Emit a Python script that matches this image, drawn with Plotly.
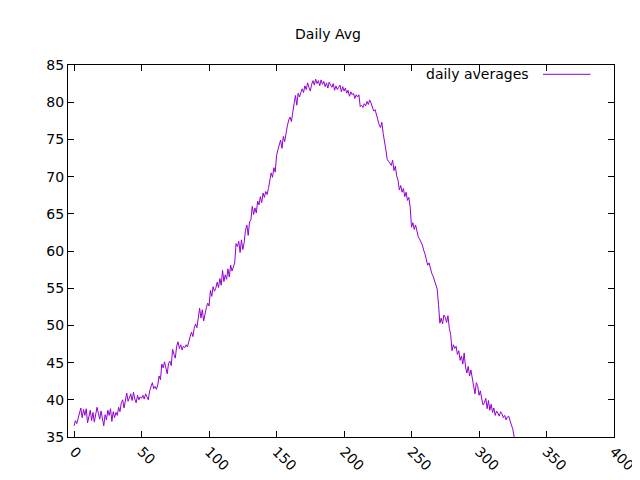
import plotly.graph_objects as go

avg = [
36.5,37.2,36.8,37.5,38.1,38.9,37.6,38.7,37.9,38.8,    # 0
36.9,37.8,38.6,37.2,38.3,37.0,38.1,39.0,38.2,37.4,    # 10
38.5,37.7,36.5,38.0,37.3,38.6,37.9,38.8,37.1,38.4,    # 20
37.6,38.3,37.9,39.0,38.4,39.6,40.0,38.9,39.8,40.9,    # 30
39.8,40.3,40.8,39.9,41.0,40.1,39.6,40.6,40.0,40.4,    # 40
40.2,41.9,42.3,41.5,41.8,41.4,42.0,43.2,42.7,44.8,    # 50
44.3,45.1,44.0,43.5,44.9,45.2,46.8,46.1,45.6,47.2,    # 60
48.3,46.9,47.4,46.7,47.2,47.0,48.0,48.5,49.1,48.5,    # 70
50.2,49.7,50.8,52.3,51.0,52.1,50.6,53.0,52.4,54.7,    # 80
53.9,55.2,54.6,55.8,56.3,55.1,57.4,55.9,56.8,56.2,    # 90
57.6,56.5,58.1,57.3,61.0,60.6,61.3,59.8,61.5,60.2,    # 100
62.8,63.5,62.1,64.2,66.0,64.9,65.8,65.1,66.7,67.3,    # 110
66.5,67.8,67.2,68.0,67.6,69.6,70.5,69.9,71.2,72.8,    # 120
74.2,74.9,73.8,75.4,74.7,76.8,77.6,78.0,77.4,78.9,    # 130
79.8,80.9,79.6,81.2,80.7,81.8,81.3,82.2,81.7,82.6,    # 140
82.0,82.9,82.3,83.1,82.5,82.9,82.2,83.0,82.4,81.8,    # 150
82.8,82.1,82.6,81.9,82.3,82.0,82.5,81.6,82.2,81.7,    # 160
82.0,81.4,82.1,81.5,81.9,81.2,80.8,81.4,81.0,80.5,    # 170
81.2,80.7,81.0,80.4,79.3,79.8,79.5,80.1,79.7,80.3,    # 180
79.9,79.2,78.8,79.0,78.3,77.5,77.0,76.6,77.3,75.8,    # 190
74.9,73.6,72.3,72.9,71.8,71.5,72.2,70.8,71.4,70.1,    # 200
69.5,68.2,68.8,67.9,68.4,67.3,67.9,66.8,67.2,65.9,    # 210
63.2,63.8,62.9,63.5,62.4,61.9,61.2,60.8,60.1,59.6,    # 220
58.8,58.1,58.4,57.5,57.0,56.6,56.1,55.4,54.9,52.8,    # 230
50.3,51.0,50.2,51.4,51.1,50.4,51.3,49.6,48.8,46.6,    # 240
47.4,46.9,47.2,46.1,46.6,45.3,45.9,44.8,46.3,44.4,    # 250
43.6,44.5,43.2,44.0,42.9,41.5,40.8,42.3,41.9,40.6,    # 260
41.2,40.1,39.3,39.6,40.2,38.8,39.9,38.6,39.4,38.3,    # 270
38.9,37.9,38.5,38.2,37.8,38.4,38.1,37.6,37.9,37.3,    # 280
]
# The list above was too short in round 1; rebuild with correct per-day values.
avg = [
36.5,37.2,36.8,37.5,38.1,38.9,37.6,38.7,37.9,38.8,
36.9,37.8,38.6,37.2,38.3,37.0,38.1,39.0,38.2,37.4,
38.5,37.7,36.5,38.0,37.3,38.6,37.9,38.8,37.1,38.4,
37.6,38.3,37.9,39.0,38.4,39.6,40.0,38.9,39.8,40.9,
39.8,40.3,40.8,39.9,41.0,40.1,39.6,40.6,40.0,40.4,
40.2,40.6,40.1,40.8,40.3,40.0,41.2,41.9,42.3,41.5,
41.8,41.4,42.0,43.2,42.7,44.8,44.3,45.1,44.0,43.5,
44.9,45.2,44.6,46.8,46.1,45.6,47.2,47.8,46.9,47.4,
46.7,47.2,47.0,47.4,47.1,48.0,48.5,49.1,48.5,49.6,
50.2,49.7,50.8,52.3,51.0,52.1,50.6,51.8,52.4,53.0,
52.6,54.7,53.9,55.2,54.6,55.0,55.8,55.1,56.3,55.4,
57.4,55.9,56.8,56.2,57.6,56.5,58.1,57.3,57.9,58.4,
61.0,60.6,61.3,59.8,61.5,60.2,61.1,62.8,63.5,62.1,
63.9,64.2,66.0,64.9,65.8,65.1,66.7,66.2,67.3,66.5,
67.8,67.2,68.0,67.6,68.4,69.6,70.5,69.9,71.2,70.6,
72.8,73.6,74.2,74.9,73.8,75.4,74.7,75.9,76.8,77.6,
78.0,77.4,78.9,79.8,80.9,79.6,81.2,80.7,81.3,81.8,
81.3,82.2,81.7,82.6,82.0,81.5,82.4,82.9,82.3,83.1,
82.5,82.9,82.2,83.0,82.4,82.8,82.1,82.6,81.9,82.7,
82.3,82.0,82.5,81.6,82.2,81.7,82.0,82.3,81.4,82.1,
81.5,81.9,81.2,81.6,80.8,81.4,81.0,81.2,80.5,81.0,
80.7,81.0,79.4,79.6,79.3,79.8,79.5,80.1,79.7,80.3,
79.9,79.2,78.8,79.0,78.3,77.5,77.0,76.6,77.3,75.8,
74.9,73.6,72.3,72.1,71.8,71.5,72.2,70.8,71.4,70.1,
69.5,68.2,68.8,67.9,68.4,67.3,67.9,66.8,67.2,65.9,
63.2,63.8,62.9,63.5,62.4,61.9,61.6,61.2,60.8,60.1,
59.6,58.8,58.1,58.4,57.5,57.0,56.6,56.1,55.4,54.9,
52.8,50.3,51.0,50.2,51.4,51.1,50.4,51.3,49.6,48.8,
46.6,47.4,46.9,47.2,46.1,46.6,45.3,45.9,44.8,46.3,
44.4,43.6,44.5,43.2,44.0,42.9,41.5,40.8,42.3,41.9,
40.6,41.2,40.1,39.3,39.6,40.2,38.8,39.9,38.6,39.4,
38.3,38.9,37.9,38.5,38.2,37.8,38.4,38.1,37.6,37.9,
37.3,37.7,37.8,37.0,36.6,36.1,35.0,
]
days = list(range(len(avg)))
legend_label = "daily averages"

fig = go.Figure(go.Scatter(x=days, y=avg, mode="lines", name=legend_label,
                           line=dict(color="#9400d3", width=1), showlegend=False))
fig.add_annotation(text=legend_label, xref="paper", yref="paper", x=0.848, y=0.975,
                   xanchor="right", yanchor="middle", showarrow=False, font=dict(size=14))
fig.add_shape(type="line", xref="paper", yref="paper", x0=0.87, x1=0.957, y0=0.975, y1=0.975,
              line=dict(color="#9400d3", width=1))
fig.update_layout(
    width=640, height=480, plot_bgcolor="white", paper_bgcolor="white",
    title=dict(text="Daily Avg", x=0.5, y=0.955, xanchor="center", font=dict(size=14, color="black")),
    font=dict(family="DejaVu Sans", size=14, color="black"),
    margin=dict(l=60, r=34, t=57, b=51, autoexpand=False),
)
ax = dict(showline=True, mirror="ticks", linecolor="black", linewidth=1, ticks="inside",
          ticklen=6, tickcolor="black", showgrid=False, zeroline=False, automargin=False)
fig.update_xaxes(range=[-4.5, 400], tickvals=list(range(0, 401, 50)), tickangle=45, **ax)
fig.update_yaxes(range=[35, 85], tickvals=list(range(35, 86, 5)), **ax)
fig.write_html("out.html")
